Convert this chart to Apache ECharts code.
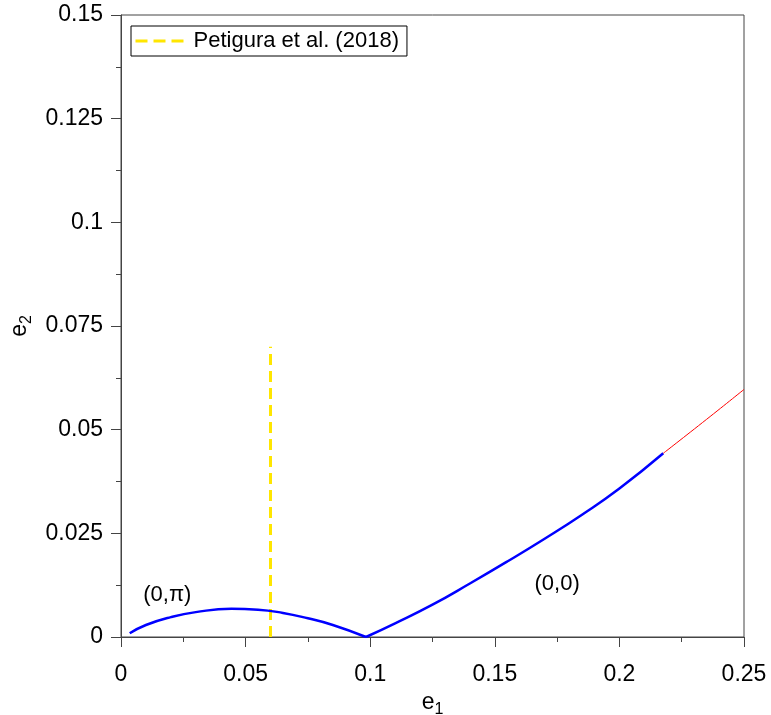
<!DOCTYPE html>
<html>
<head>
<meta charset="utf-8">
<script src="https://cdn.jsdelivr.net/npm/echarts@6/dist/echarts.min.js"></script>
<style>
  html, body { margin: 0; padding: 0; background: #fff; }
  #chart { width: 771px; height: 715px; }
</style>
</head>
<body>
<div id="chart"></div>
<script>
// (0,pi) branch, left arch (blue)
const archE1 = [0.0035, 0.01, 0.02, 0.03, 0.0443, 0.055, 0.065, 0.075, 0.085, 0.0983];
const archE2 = [0.0009, 0.0029, 0.0048, 0.0060, 0.0068, 0.0066, 0.0058, 0.0045, 0.0029, 0.0];
// (0,0) branch, stable part (blue)
const riseE1 = [0.0983, 0.11, 0.125, 0.14, 0.155, 0.17, 0.185, 0.2, 0.2176];
const riseE2 = [0.0, 0.0033, 0.0078, 0.0129, 0.0182, 0.0237, 0.0295, 0.0358, 0.0443];
// continuation (red)
const redE1 = [0.2176, 0.235, 0.25];
const redE2 = [0.0443, 0.0525, 0.0597];
// Petigura et al. (2018) marker
const petiguraE1 = [0.06, 0.06];
const petiguraE2 = [0, 0.07];
// region labels
const noteE1 = [0.0186, 0.175];
const noteE2 = [0.0102, 0.0129];
const noteText = ["(0,π)", "(0,0)"];

const xTicks = [0, 0.05, 0.1, 0.15, 0.2, 0.25];
const yTicks = [0, 0.025, 0.05, 0.075, 0.1, 0.125, 0.15];

const pairs = (xs, ys) => xs.map((x, i) => [x, ys[i]]);
const font = "Liberation Sans, Arial, sans-serif";
const axisGrey = "#444";
const subName = () => ({
  e: { fontSize: 23, color: "#000", fontFamily: font },
  s: { fontSize: 16, color: "#000", fontFamily: font, padding: [14, 0, 0, 0] }
});

const chart = echarts.init(document.getElementById("chart"));
chart.setOption({
  animation: false,
  textStyle: { fontFamily: font },
  grid: {
    left: 121, right: 27, top: 15, bottom: 78,
    outerBoundsMode: "none", containLabel: false,
    show: true, borderColor: axisGrey, borderWidth: 1
  },
  legend: {
    data: ["Petigura et al. (2018)"],
    left: 131, top: 26,
    borderColor: "#000", borderWidth: 1, borderRadius: 0,
    padding: [4, 8, 4, 3],
    itemWidth: 48, itemHeight: 14,
    itemStyle: { opacity: 0 },
    lineStyle: { color: "#ffe600", width: 3, type: [12, 6] },
    textStyle: { fontSize: 22, color: "#000", fontFamily: font, padding: [0, 0, 0, 5] }
  },
  xAxis: {
    type: "value",
    min: xTicks[0], max: xTicks[xTicks.length - 1], interval: 0.05,
    name: "{e|e}{s|1}",
    nameLocation: "middle", nameGap: 46,
    nameTextStyle: { rich: subName() },
    axisLine: { onZero: false, lineStyle: { color: axisGrey } },
    axisTick: { length: 10, lineStyle: { color: axisGrey } },
    minorTick: { show: true, splitNumber: 2, length: 5, lineStyle: { color: axisGrey } },
    splitLine: { show: false },
    axisLabel: {
      fontSize: 23, color: "#000", margin: 26,
      formatter: v => String(+v.toFixed(4))
    }
  },
  yAxis: {
    type: "value",
    min: yTicks[0], max: yTicks[yTicks.length - 1], interval: 0.025,
    name: "{e|e}{s|2}",
    nameLocation: "middle", nameGap: 86, nameRotate: 90,
    nameTextStyle: { rich: subName() },
    axisLine: { onZero: false, lineStyle: { color: axisGrey } },
    axisTick: { length: 10, lineStyle: { color: axisGrey } },
    minorTick: { show: true, splitNumber: 2, length: 5, lineStyle: { color: axisGrey } },
    splitLine: { show: false },
    axisLabel: {
      fontSize: 23, color: "#000", margin: 18,
      formatter: v => String(+v.toFixed(4))
    }
  },
  series: [
    {
      name: "arch",
      type: "line",
      data: pairs(archE1, archE2),
      smooth: 0.5,
      symbol: "none",
      lineStyle: { color: "#0000ff", width: 2.5 },
      z: 3
    },
    {
      name: "rise",
      type: "line",
      data: pairs(riseE1, riseE2),
      smooth: 0.5,
      symbol: "none",
      lineStyle: { color: "#0000ff", width: 2.5 },
      z: 3
    },
    {
      name: "continuation",
      type: "line",
      data: pairs(redE1, redE2),
      smooth: 0.5,
      symbol: "none",
      lineStyle: { color: "#ff0000", width: 1 },
      z: 3
    },
    {
      name: "Petigura et al. (2018)",
      type: "line",
      data: pairs(petiguraE1, petiguraE2),
      symbol: "none",
      itemStyle: { color: "#ffe600" },
      lineStyle: { color: "#ffe600", width: 3, type: [11, 6] },
      z: 2
    },
    {
      name: "notes",
      type: "scatter",
      data: pairs(noteE1, noteE2),
      symbolSize: 0,
      silent: true,
      itemStyle: { opacity: 1 },
      label: {
        show: true, position: "inside",
        fontSize: 22, color: "#000", fontFamily: font,
        formatter: p => noteText[p.dataIndex]
      }
    }
  ]
});
</script>
</body>
</html>
